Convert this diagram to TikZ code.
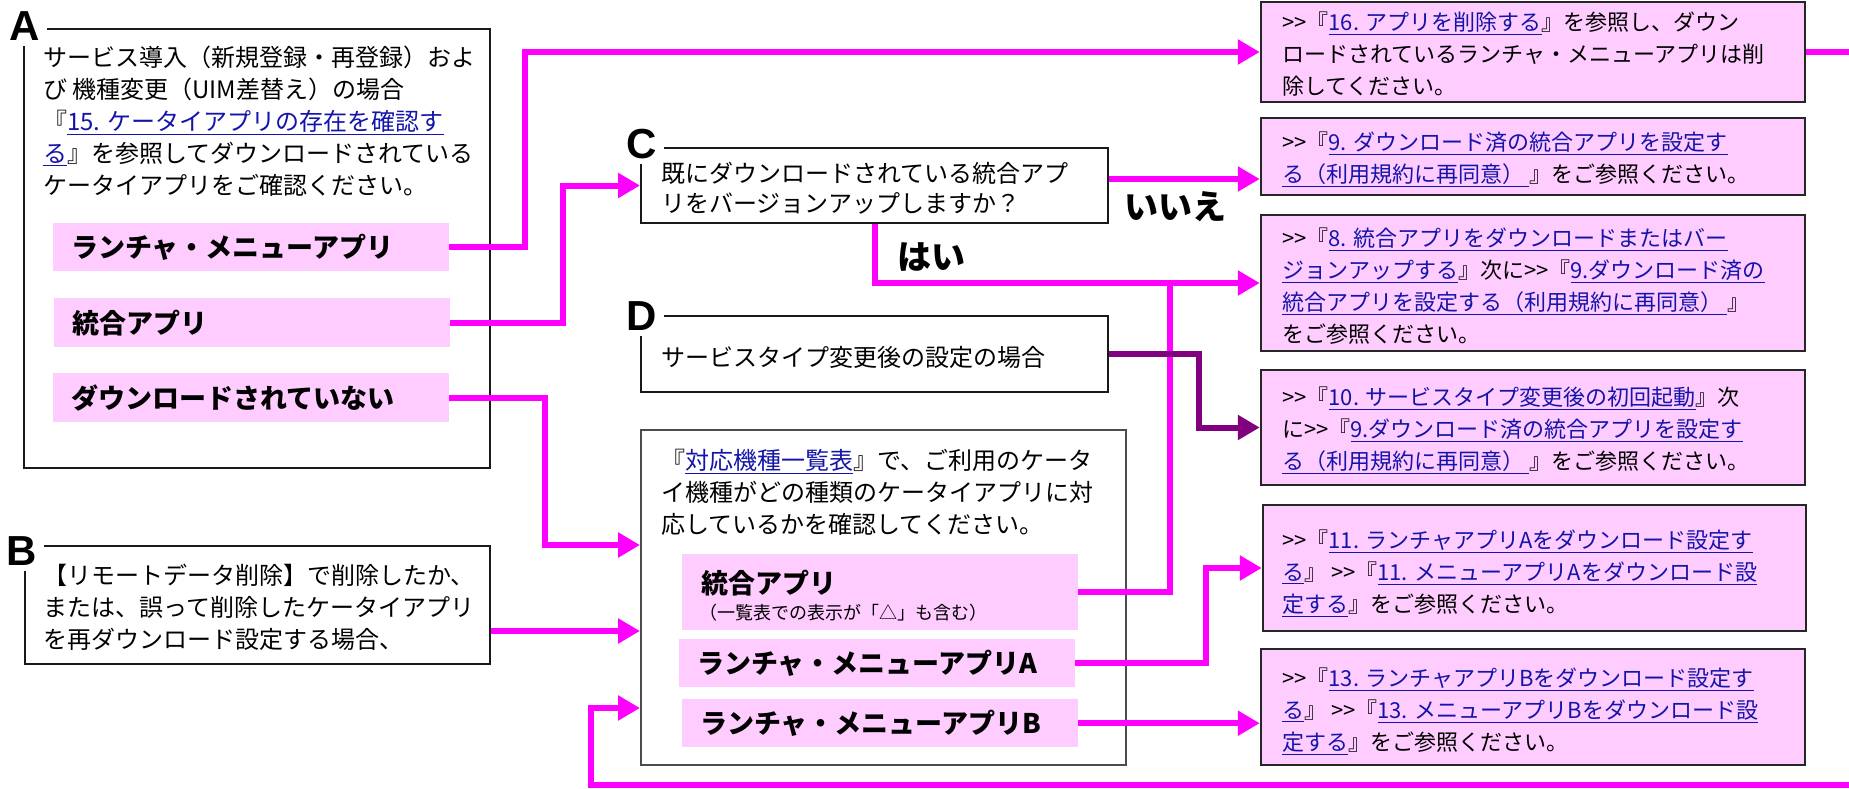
\documentclass[tikz,border=0pt]{standalone}
\usepackage{fontspec}
\setmainfont{Noto Sans CJK JP}
\newfontfamily\labfont{Liberation Sans}
\usetikzlibrary{arrows.meta}
\definecolor{mag}{RGB}{255,0,255}
\definecolor{pur}{RGB}{128,0,128}
\definecolor{pinkbox}{RGB}{255,204,255}
\definecolor{barpink}{RGB}{255,204,255}
\definecolor{linkblue}{RGB}{20,20,170}
\newcommand\lk[1]{{\color{linkblue}\underline{#1}}}
\newcommand\fs[2]{\fontsize{#1}{#2}\selectfont}
\newcommand\dgt{>\kern0pt>}
\begin{document}
\begin{tikzpicture}[x=1pt,y=-1pt,
  frame/.style={draw=black!90, line width=2pt, inner sep=0pt},
  rbox/.style={draw=black!85, line width=2.5pt, fill=pinkbox, inner sep=0pt, minimum width=544pt},
  lab/.style={fill=white, inner sep=0pt, minimum width=44pt, minimum height=40pt, font=\labfont\bfseries\fs{42}{42}},
  txt/.style={anchor=north west, inner sep=0pt, align=left, font=\fs{24}{32}},
  rtxt/.style={anchor=north west, inner sep=0pt, align=left, font=\fs{22}{32}},
  bar/.style={fill=barpink, anchor=north west, inner xsep=18pt, inner ysep=0pt, text width=360pt, minimum height=48pt, align=left, font=\bfseries\fs{27}{30}},
  conn/.style={draw=mag, line width=6pt, -{Triangle[length=22pt,width=24pt]}},
  mline/.style={draw=mag, line width=6pt},
  pconn/.style={draw=pur, line width=6pt, -{Triangle[length=22pt,width=24pt]}},
  yn/.style={inner sep=0pt, font=\bfseries\fs{34}{34}}]
\useasboundingbox (0,0) rectangle (1849,788);
\fill[white] (0,0) rectangle (1849,788);
\clip (0,0) rectangle (1849,788);

% left frames
\node[frame, minimum width=466pt, minimum height=439pt] (a) at (257,248.5) {};
\node[frame, minimum width=465pt, minimum height=118pt] (b) at (257.5,605) {};
\node[frame, minimum width=467pt, minimum height=75pt] (c) at (874.5,185.5) {};
\node[frame, minimum width=467pt, minimum height=76pt] (d) at (874.5,354) {};
\node[frame, draw=black!70, minimum width=485pt, minimum height=335pt] (e) at (883.5,597.5) {};

% corner labels
\node[lab] (la) at (25,26) {A};
\node[lab] (lb) at (22,551) {B};
\node[lab] (lc) at (642,144) {C};
\node[lab] (ld) at (642,316) {D};

% right boxes
\node[rbox, minimum height=100pt] (b16) at (1533,52) {};
\node[rbox, minimum height=77pt] (b9) at (1533,156.5) {};
\node[rbox, minimum height=136pt] (b8) at (1533,283) {};
\node[rbox, minimum height=115pt] (b10) at (1533,427.5) {};
\node[rbox, minimum width=543pt, minimum height=126pt] (b11) at (1534.5,568) {};
\node[rbox, minimum height=116pt] (b13) at (1533,707) {};

% bars
\node[bar] (a1) at (53,223) {ランチャ・メニューアプリ};
\node[bar, minimum height=49pt] (a2) at (54,298) {統合アプリ};
\node[bar, minimum height=49pt] (a3) at (53,373) {ダウンロードされていない};
\node[bar, minimum height=76pt] (e1) at (682,554) {};
\node[bar] (e2) at (679,639) {ランチャ・メニューアプリA};
\node[bar] (e3) at (682,699) {ランチャ・メニューアプリB};
\node[anchor=west, inner sep=0pt, font=\bfseries\fs{27}{30}] (e1a) at (701,583) {統合アプリ};
\node[anchor=west, inner sep=0pt, font=\fs{18}{20}] (e1b) at (699,613) {（一覧表での表示が「△」も含む）};

% texts
\node[txt] (ta) at (43,46) {サービス導入（新規登録・再登録）およ\\び 機種変更（UIM差替え）の場合\\『\lk{15. ケータイアプリの存在を確認す}\\\lk{る}』を参照してダウンロードされている\\ケータイアプリをご確認ください。};
\node[txt] (tb) at (43,564) {【リモートデータ削除】で削除したか、\\または、誤って削除したケータイアプリ\\を再ダウンロード設定する場合、};
\node[txt, font=\fs{24}{30}] (tc) at (661,162) {既にダウンロードされている統合アプ\\リをバージョンアップしますか？};
\node[anchor=west, inner sep=0pt, font=\fs{24}{32}] (td) at (661,357) {サービスタイプ変更後の設定の場合};
\node[txt] (te) at (661,449) {『\lk{対応機種一覧表}』で、ご利用のケータ\\イ機種がどの種類のケータイアプリに対\\応しているかを確認してください。};

\node[rtxt] (t16) at (1282,12) {\dgt『\lk{16. アプリを削除する}』を参照し、ダウン\\ロードされているランチャ・メニューアプリは削\\除してください。};
\node[rtxt] (t9) at (1282,132) {\dgt『\lk{9. ダウンロード済の統合アプリを設定す}\\\lk{る（利用規約に再同意） }』をご参照ください。};
\node[rtxt] (t8) at (1282,228) {\dgt『\lk{8. 統合アプリをダウンロードまたはバー}\\\lk{ジョンアップする}』次に\dgt『\lk{9.ダウンロード済の}\\\lk{統合アプリを設定する（利用規約に再同意） }』\\をご参照ください。};
\node[rtxt] (t10) at (1282,387) {\dgt『\lk{10. サービスタイプ変更後の初回起動}』次\\に\dgt『\lk{9.ダウンロード済の統合アプリを設定す}\\\lk{る（利用規約に再同意） }』をご参照ください。};
\node[rtxt] (t11) at (1282,530) {\dgt『\lk{11. ランチャアプリAをダウンロード設定す}\\\lk{る}』 \dgt『\lk{11. メニューアプリAをダウンロード設}\\\lk{定する}』をご参照ください。};
\node[rtxt] (t13) at (1282,668) {\dgt『\lk{13. ランチャアプリBをダウンロード設定す}\\\lk{る}』 \dgt『\lk{13. メニューアプリBをダウンロード設}\\\lk{定する}』をご参照ください。};

% yes / no labels
\node[yn] (no) at (1175,207) {いいえ};
\node[yn] (yes) at (931,257) {はい};

% connectors
\draw[conn] (a1.east) -- ++(76,0) |- (b16.west);
\draw[conn] (a2.east) -- ++(113,0) |- (c.west);
\draw[conn] (a3.east) -- ++(96,0) |- ([yshift=-116pt]e.north west);
\draw[conn] ([yshift=-26pt]b.east) -- ([yshift=-26pt]b.east -| e.west);
\draw[conn] ([yshift=6.5pt]c.east) -- ([yshift=6.5pt]c.east -| b9.west);
\draw[conn] (c.south) |- (b8.west);
\draw[mline] (e1.east) -| ([xshift=92pt]e1.east |- b8.west);
\draw[conn] (e2.east) -- ++(131,0) |- (b11.west);
\draw[conn] (e3.east) -- (e3.east -| b13.west);
\draw[conn] (b16.east) -- ++(80,0) |- (591,785) |- ([yshift=-110.5pt]e.west);
\draw[pconn] (d.east) -- ++(90,0) |- (b10.west);
\end{tikzpicture}
\end{document}
